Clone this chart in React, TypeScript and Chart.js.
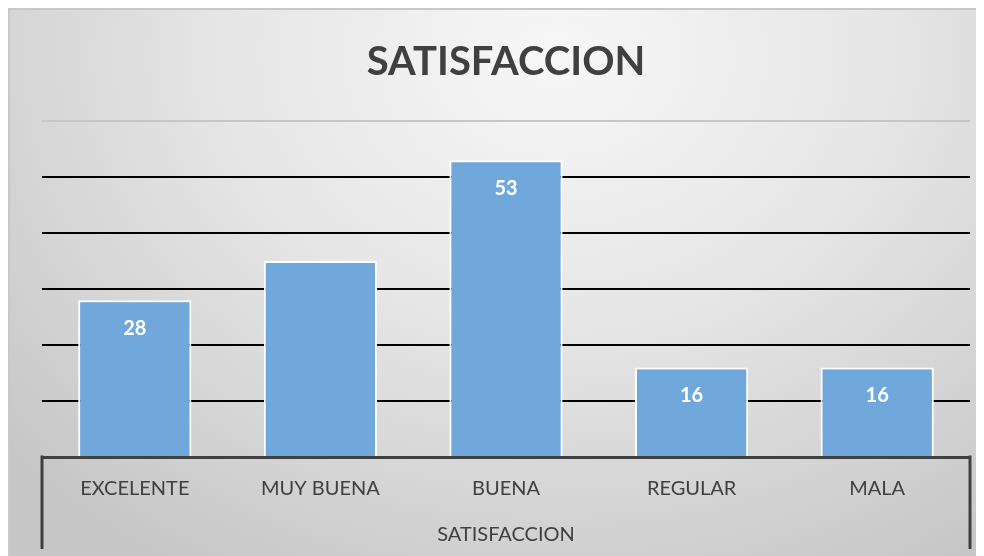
import React, { useEffect, useRef } from "react";
import { Chart, registerables } from "chart.js";

Chart.register(...registerables);

const categories = ["EXCELENTE", "MUY BUENA", "BUENA", "REGULAR", "MALA"];
const values = [28, 35, 53, 16, 16];
const shownLabels = ["28", "", "53", "16", "16"];
const chartTitle = "SATISFACCION";
const axisTitle = "SATISFACCION";

const FONT = "Lato, 'Open Sans', sans-serif";

const valueLabelPlugin = {
  id: "valueLabels",
  afterDatasetsDraw(chart: any) {
    const ctx = chart.ctx;
    const meta = chart.getDatasetMeta(0);
    ctx.save();
    ctx.fillStyle = "#ffffff";
    ctx.font = `bold 20px ${FONT}`;
    ctx.textAlign = "center";
    ctx.textBaseline = "middle";
    meta.data.forEach((bar: any, i: number) => {
      const t = shownLabels[i];
      if (!t) return;
      ctx.fillText(t, bar.x, bar.y + 28);
    });
    ctx.restore();
  },
};

const axisBoxPlugin = {
  id: "axisBox",
  afterDraw(chart: any) {
    const { ctx, chartArea } = chart;
    ctx.save();
    ctx.strokeStyle = "#404040";
    ctx.lineWidth = 3;
    ctx.beginPath();
    ctx.moveTo(chartArea.left, chartArea.bottom - 1.5);
    ctx.lineTo(chartArea.left, chartArea.bottom + 92);
    ctx.moveTo(chartArea.right, chartArea.bottom - 1.5);
    ctx.lineTo(chartArea.right, chartArea.bottom + 92);
    ctx.stroke();
    ctx.restore();
  },
};

export default function App() {
  const ref = useRef<HTMLCanvasElement | null>(null);

  useEffect(() => {
    if (!ref.current) return;
    const chart = new Chart(ref.current, {
      type: "bar",
      data: {
        labels: categories,
        datasets: [
          {
            data: values,
            backgroundColor: "#70a8db",
            borderColor: "#ffffff",
            borderWidth: 2,
            categoryPercentage: 1,
            barPercentage: 0.61,
          },
        ],
      },
      options: {
        responsive: false,
        animation: false,
        layout: { padding: { left: 32, right: 14, top: 0, bottom: 0 } },
        plugins: {
          legend: { display: false },
          tooltip: { enabled: false },
          title: {
            display: true,
            text: chartTitle,
            color: "#404040",
            font: { family: FONT, size: 40, weight: "bold" },
            padding: { top: 28, bottom: 35 },
          },
        },
        scales: {
          y: {
            min: 0,
            max: 60,
            ticks: { display: false, stepSize: 10 },
            border: { display: false },
            grid: {
              drawTicks: false,
              lineWidth: 2,
              color: (c: any) =>
                c.tick && c.tick.value === 60
                  ? "#c6c6c6"
                  : c.tick && c.tick.value === 0
                  ? "rgba(0,0,0,0)"
                  : "#000000",
            },
          },
          x: {
            border: { display: true, color: "#404040", width: 3 },
            grid: { display: false, drawTicks: false },
            ticks: {
              color: "#404040",
              font: { family: FONT, size: 20 },
              padding: 20,
              autoSkip: false,
              maxRotation: 0,
            },
            title: {
              display: true,
              text: axisTitle,
              color: "#404040",
              font: { family: FONT, size: 20, lineHeight: 0.9 },
              padding: { top: 5, bottom: 12 },
            },
          },
        },
      },
      plugins: [valueLabelPlugin, axisBoxPlugin],
    });
    return () => chart.destroy();
  }, []);

  return (
    <div
      style={{
        width: 976,
        height: 548,
        boxSizing: "border-box",
        borderTop: "2px solid #c8c8c8",
        borderLeft: "2px solid #c8c8c8",
        background:
          "radial-gradient(ellipse 75% 110% at 56% 8%, #f7f7f7 0%, #e6e6e6 45%, #d2d2d2 80%, #c6c6c6 100%)",
      }}
    >
      <canvas ref={ref} width={974} height={546} style={{ display: "block" }} />
    </div>
  );
}
